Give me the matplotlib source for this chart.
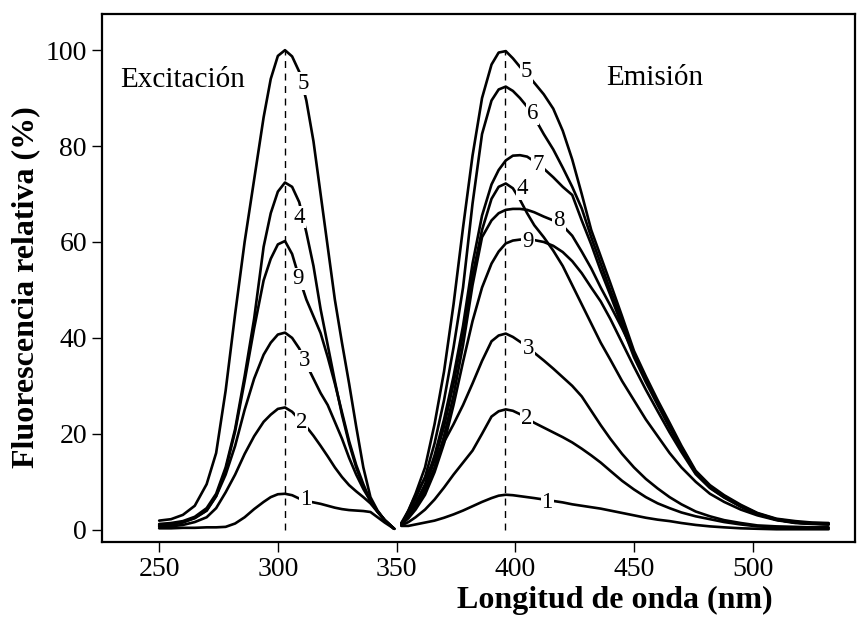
import numpy as np
import matplotlib
matplotlib.use("Agg")
import matplotlib.pyplot as plt

plt.rcParams['font.family'] = ['Liberation Serif', 'DejaVu Serif']

# excitation spectra (nm, % relative fluorescence)
exc_nm = [250, 255, 260, 265, 270, 274, 278, 282, 286, 290, 294, 297, 300, 303,
          306, 309, 312, 315, 318, 321, 324, 327, 330, 333, 336, 339, 342, 345, 349]
exc = {
    '5': [1.9, 2.2, 3.1, 5.0, 9.5, 16, 29, 45, 60, 73, 86, 94, 98.8, 100,
          98.7, 95.5, 89.5, 81, 70, 59, 48, 39, 30.5, 21.5, 13, 6.8, 4, 2, 0.2],
    '4': [1.2, 1.4, 1.8, 2.7, 4.5, 7.5, 13, 21, 32, 44, 59, 66, 70.5, 72.4,
          71.5, 68.3, 62, 55, 46, 38.5, 31, 24, 18, 13, 9, 6, 3.8, 2, 0.2],
    '9': [1.0, 1.2, 1.6, 2.4, 4, 7, 12.5, 20.5, 31, 42, 52, 56.5, 59.5, 60.2,
          57.5, 52.5, 48, 44.5, 41, 36, 30.5, 24.5, 18.5, 13.5, 9.5, 6, 3.8, 2, 0.2],
    '3': [0.8, 1.0, 1.5, 2.5, 4, 7, 11.5, 17.5, 25, 31.5, 36.5, 39, 40.7, 41.1,
          40, 37.8, 34.5, 31.5, 28.5, 26, 22.5, 19, 15, 11.5, 8.5, 6, 3.8, 2, 0.2],
    '2': [0.6, 0.7, 1.0, 1.6, 2.6, 4.5, 7.8, 11.5, 15.8, 19.5, 22.5, 24, 25.2, 25.5,
          24.6, 23, 21.5, 19.6, 17.5, 15.3, 13, 11, 9.3, 8, 6.8, 5.5, 3.7, 2, 0.2],
    '1': [0.3, 0.3, 0.4, 0.4, 0.5, 0.5, 0.6, 1.3, 2.6, 4.3, 5.8, 6.8, 7.4, 7.5,
          7.2, 6.5, 6.0, 5.7, 5.4, 5.0, 4.6, 4.3, 4.1, 4.0, 3.9, 3.7, 2.6, 1.5, 0.2],
}

# emission spectra
em_nm = [352, 355, 358, 362, 366, 370, 374, 378, 382, 386, 390, 393, 396, 399,
         402, 405, 408, 412, 416, 420, 424, 428, 432, 436, 440, 445, 450, 455,
         460, 465, 470, 476, 482, 488, 495, 502, 510, 518, 525, 532]
em = {
    '5': [1.4, 4, 7.5, 13, 22, 33, 47, 63, 78, 90, 97, 99.5, 99.8, 98.3,
          96.5, 95, 93.2, 90.8, 87.8, 83.2, 77.2, 70, 62.5, 57, 51.5, 44.5, 37.3, 32,
          27, 22.3, 17.5, 12.3, 9.3, 7.2, 5.2, 3.5, 2.3, 1.8, 1.5, 1.4],
    '6': [1.3, 3.5, 6.5, 11, 18, 27, 38, 50.5, 68, 82.5, 89.5, 91.8, 92.4, 91.5,
          90, 88.2, 86, 82.5, 79.3, 75.5, 71.5, 67, 61, 55.5, 50, 43.5, 36.8, 31.5,
          26.5, 21.8, 17.2, 12, 9, 7, 5, 3.4, 2.2, 1.6, 1.4, 1.3],
    '7': [1.2, 3, 5.5, 9.5, 15.5, 23, 32, 42.5, 55.5, 65.5, 72, 75, 77, 78,
          78.1, 77.8, 76.8, 75.3, 73.5, 71.5, 69.8, 64.5, 59.5, 54, 49, 42.5, 36, 30.8,
          26, 21.3, 16.8, 11.8, 8.8, 6.8, 4.9, 3.3, 2.1, 1.5, 1.3, 1.2],
    '4': [1.2, 2.8, 5, 8.8, 14.5, 21.5, 30.5, 41, 53, 62.5, 69, 71.5, 72.2, 71.2,
          68.8, 66, 63.5, 61, 58.2, 55, 51, 47, 43, 39, 35.5, 31, 27, 23,
          19.5, 16, 13, 10, 7.5, 5.8, 4.2, 3, 2, 1.4, 1.2, 1.1],
    '8': [1.2, 2.6, 4.6, 8, 13, 19.5, 28, 38.5, 51, 61, 64.5, 66, 66.7, 66.9,
          66.9, 66.7, 66.2, 65.3, 64.5, 63.4, 61.3, 58, 54.5, 50.5, 46.8, 42, 36.8, 31.5,
          26.5, 21.6, 17, 12, 8.9, 6.9, 4.9, 3.3, 2.1, 1.5, 1.3, 1.2],
    '9': [1.1, 2.4, 4.2, 7.3, 12, 18, 26, 35, 43.5, 50.5, 55.5, 58, 59.7, 60.3,
          60.5, 60.5, 60.4, 60, 59.2, 57.9, 56, 53.5, 50.5, 47.6, 44, 39, 34, 29.2,
          24.7, 20.3, 16.2, 11.6, 8.7, 6.7, 4.8, 3.2, 2.1, 1.5, 1.3, 1.1],
    '3': [1.0, 4, 7.2, 10.8, 14.5, 18.3, 22, 26, 30.5, 35.2, 39.3, 40.5, 40.9, 40.2,
          39.2, 38.2, 36.9, 35.3, 33.6, 31.8, 30, 27.8, 24.8, 21.8, 19, 15.8, 13, 10.6,
          8.6, 6.8, 5.3, 3.8, 2.8, 2.0, 1.4, 0.9, 0.7, 0.6, 0.5, 0.5],
    '2': [0.9, 1.6, 2.6, 4.2, 6.3, 8.8, 11.5, 14, 16.5, 20, 23.6, 24.7, 25.1, 24.8,
          24.1, 23.2, 22.3, 21.3, 20.3, 19.3, 18.2, 16.9, 15.5, 14, 12.3, 10.2, 8.4, 6.8,
          5.5, 4.5, 3.6, 2.8, 2.2, 1.6, 1.1, 0.7, 0.5, 0.4, 0.4, 0.3],
    '1': [0.8, 0.8, 1.1, 1.5, 1.9, 2.5, 3.2, 4, 4.9, 5.8, 6.6, 7.1, 7.3, 7.2,
          7.0, 6.8, 6.6, 6.3, 6.0, 5.7, 5.3, 5.0, 4.7, 4.4, 4.0, 3.5, 3.0, 2.5,
          2.1, 1.8, 1.4, 1.0, 0.7, 0.5, 0.3, 0.2, 0.1, 0.1, 0.1, 0.1],
}

# where each curve number is written
exc_labels = {'5': (310.7, 93.1), '4': (309.2, 65.2), '9': (308.5, 52.3),
              '3': (311.4, 35.2), '2': (310.0, 22.3), '1': (311.8, 6.3)}
em_labels = {'5': (404.7, 95.5), '6': (407.2, 86.8), '7': (409.6, 76.2),
             '4': (403.0, 71.1), '8': (418.4, 64.5), '9': (405.4, 60.0),
             '3': (405.4, 37.7), '2': (404.7, 23.2), '1': (413.4, 5.6)}

peak_nm = [303, 395.5]

fig = plt.figure(figsize=(8.66, 6.17), dpi=100)
ax = fig.add_axes([0.118, 0.122, 0.869, 0.855])

for k, y in exc.items():
    ax.plot(exc_nm, y, color='black', lw=1.9, solid_capstyle='round', zorder=2)
for k, y in em.items():
    ax.plot(em_nm, y, color='black', lw=1.9, solid_capstyle='round', zorder=2)

# maximum positions
for p in peak_nm:
    ax.plot([p, p], [0, 100], color='black', lw=1.0, ls=(0, (5, 4)), zorder=1)

for labels in (exc_labels, em_labels):
    for k, (x, y) in labels.items():
        ax.text(x, y, k, fontsize=16.5, ha='center', va='center', zorder=3,
                bbox=dict(facecolor='white', edgecolor='none', pad=0.6))

ax.text(260, 93.8, 'Excitación', fontsize=21, ha='center', va='center')
ax.text(458.7, 94.1, 'Emisión', fontsize=21, ha='center', va='center')

ax.set_xlim(226, 543)
ax.set_ylim(-2.5, 107.5)
ax.set_xticks([250, 300, 350, 400, 450, 500])
ax.set_yticks([0, 20, 40, 60, 80, 100])
ax.tick_params(direction='out', length=7, width=1, labelsize=20, pad=4)
for s in ax.spines.values():
    s.set_linewidth(1.6)

ax.set_xlabel('Longitud de onda (nm)', fontsize=23, fontweight='bold')
ax.xaxis.set_label_coords(0.681, -0.084)
ax.set_ylabel('Fluorescencia relativa (%)', fontsize=23, fontweight='bold')
ax.yaxis.set_label_coords(-0.083, 0.483)

fig.savefig('out.png', dpi=100)
